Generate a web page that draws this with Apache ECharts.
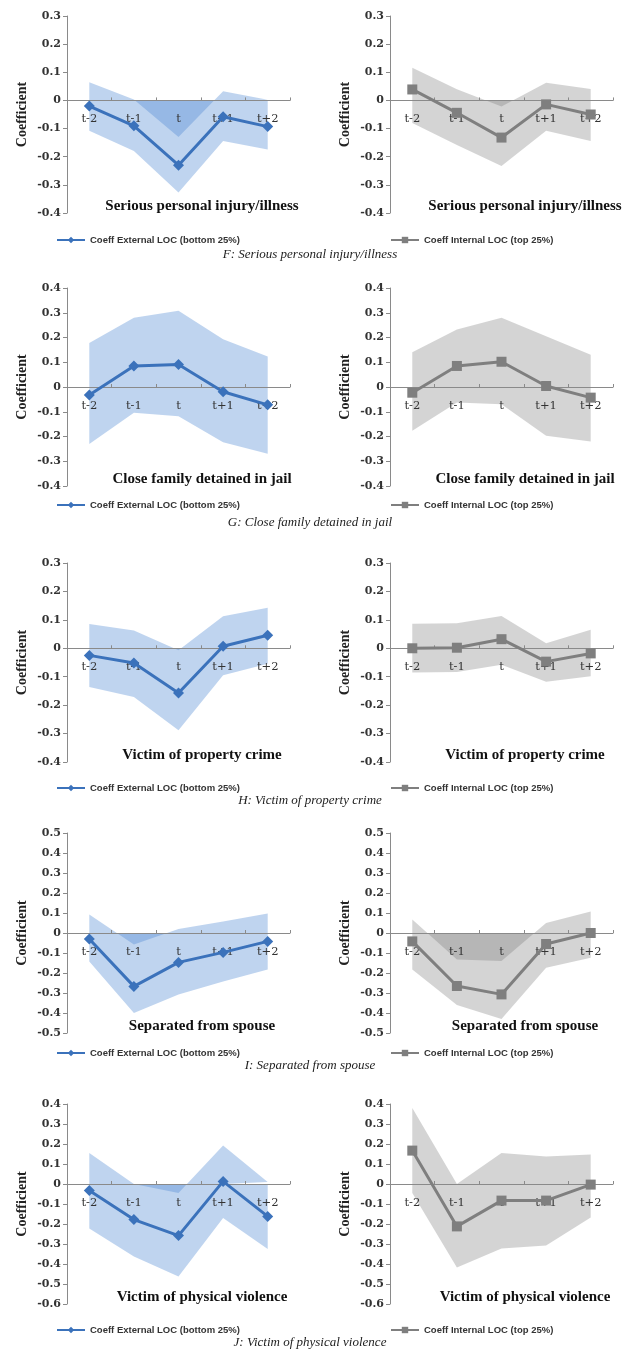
<!DOCTYPE html>
<html>
<head>
<meta charset="utf-8">
<script src="https://cdn.jsdelivr.net/npm/echarts@6/dist/echarts.min.js"></script>
<style>
  html, body { margin: 0; padding: 0; background: #ffffff; }
  #chart { width: 626px; height: 1355px; }
</style>
</head>
<body>
<div id="chart"></div>
<script>
// Event timing relative to the life event
const categories = ['t-2', 't-1', 't', 't+1', 't+2'];

const panelTitles = [
  'Serious personal injury/illness',
  'Close family detained in jail',
  'Victim of property crime',
  'Separated from spouse',
  'Victim of physical violence'
];
const captions = [
  'F: Serious personal injury/illness',
  'G: Close family detained in jail',
  'H: Victim of property crime',
  'I: Separated from spouse',
  'J: Victim of physical violence'
];
const seriesNames = ['Coeff External LOC (bottom 25%)', 'Coeff Internal LOC (top 25%)'];

// y-axis range of each panel (ticks every 0.1)
const yMin = [-0.4, -0.4, -0.4, -0.5, -0.6];
const yMax = [0.3, 0.4, 0.3, 0.5, 0.4];

// External LOC (bottom 25%): coefficient with upper / lower confidence bound
const extF_coef = [-0.020, -0.090, -0.230, -0.058, -0.093];
const extF_hi   = [0.065, 0.003, -0.130, 0.033, 0.002];
const extF_lo   = [-0.108, -0.180, -0.327, -0.144, -0.174];

const extG_coef = [-0.032, 0.085, 0.091, -0.019, -0.072];
const extG_hi   = [0.178, 0.280, 0.308, 0.193, 0.123];
const extG_lo   = [-0.230, -0.104, -0.118, -0.223, -0.270];

const extH_coef = [-0.025, -0.052, -0.157, 0.007, 0.046];
const extH_hi   = [0.085, 0.063, -0.007, 0.113, 0.143];
const extH_lo   = [-0.136, -0.171, -0.288, -0.095, -0.054];

const extI_coef = [-0.030, -0.267, -0.147, -0.097, -0.042];
const extI_hi   = [0.092, -0.058, 0.020, 0.058, 0.097];
const extI_lo   = [-0.142, -0.400, -0.308, -0.242, -0.183];

const extJ_coef = [-0.032, -0.178, -0.258, 0.013, -0.162];
const extJ_hi   = [0.155, 0.000, -0.045, 0.192, 0.010];
const extJ_lo   = [-0.223, -0.362, -0.462, -0.170, -0.325];

// Internal LOC (top 25%): coefficient with upper / lower confidence bound
const intF_coef = [0.039, -0.044, -0.132, -0.014, -0.050];
const intF_hi   = [0.116, 0.040, -0.022, 0.063, 0.041];
const intF_lo   = [-0.080, -0.158, -0.233, -0.108, -0.144];

const intG_coef = [-0.023, 0.085, 0.102, 0.004, -0.043];
const intG_hi   = [0.140, 0.232, 0.280, 0.205, 0.130];
const intG_lo   = [-0.177, -0.063, -0.070, -0.197, -0.220];

const intH_coef = [0.000, 0.002, 0.032, -0.047, -0.018];
const intH_hi   = [0.086, 0.088, 0.114, 0.018, 0.065];
const intH_lo   = [-0.085, -0.083, -0.058, -0.118, -0.098];

const intI_coef = [-0.042, -0.265, -0.307, -0.055, 0.000];
const intI_hi   = [0.067, -0.133, -0.140, 0.050, 0.108];
const intI_lo   = [-0.183, -0.360, -0.430, -0.174, -0.124];

const intJ_coef = [0.167, -0.212, -0.083, -0.083, -0.003];
const intJ_hi   = [0.380, 0.000, 0.155, 0.138, 0.147];
const intJ_lo   = [-0.045, -0.417, -0.323, -0.307, -0.167];

const coefSets = [
  [extF_coef, intF_coef], [extG_coef, intG_coef], [extH_coef, intH_coef],
  [extI_coef, intI_coef], [extJ_coef, intJ_coef]
];
const hiSets = [
  [extF_hi, intF_hi], [extG_hi, intG_hi], [extH_hi, intH_hi],
  [extI_hi, intI_hi], [extJ_hi, intJ_hi]
];
const loSets = [
  [extF_lo, intF_lo], [extG_lo, intG_lo], [extH_lo, intH_lo],
  [extI_lo, intI_lo], [extJ_lo, intJ_lo]
];

// ---- layout & styling ----
const gridTop = [16, 288, 563, 833, 1104];
const gridHeight = [197, 198, 199, 200, 200];
const gridLeft = [67, 390];
const gridWidth = 223;
const legendTop = [235, 500, 783, 1048, 1325];
const captionY = [255, 523, 801, 1066, 1343];
const titleCenterX = [202, 525];

const lineColor = ['#3b72bb', '#7f7f7f'];
const bandColor = ['rgba(80,138,212,0.52)', 'rgba(120,120,120,0.45)'];
const symbols = ['diamond', 'rect'];
const symbolSizes = [11, 10];

const axisGray = '#8a8a8a';
const serif = '"Liberation Serif", "DejaVu Serif", serif';

const grids = [], xAxes = [], yAxes = [], series = [], legends = [], graphics = [];

for (let p = 0; p < 5; p++) {
  // the category axis (line, ticks and labels) sits on the value axis' zero
  const zeroLift = gridHeight[p] * (0 - yMin[p]) / (yMax[p] - yMin[p]);
  for (let s = 0; s < 2; s++) {
    const idx = grids.length;
    grids.push({
      left: gridLeft[s], top: gridTop[p], width: gridWidth, height: gridHeight[p],
      containLabel: false
    });
    xAxes.push({
      type: 'category', gridIndex: idx, data: categories, boundaryGap: true,
      position: 'bottom', offset: -zeroLift,
      axisLine: { onZero: false, lineStyle: { color: axisGray, width: 1 } },
      axisTick: { show: true, inside: true, length: 3, lineStyle: { color: axisGray } },
      axisLabel: {
        margin: 13, color: '#333', fontFamily: '"DejaVu Serif", serif', fontSize: 11.5
      },
      splitLine: { show: false },
      z: 1
    });
    yAxes.push({
      type: 'value', gridIndex: idx, min: yMin[p], max: yMax[p], interval: 0.1,
      name: 'Coefficient', nameLocation: 'middle', nameGap: 38, nameRotate: 90,
      nameTextStyle: { fontFamily: serif, fontWeight: 'bold', fontSize: 14, color: '#222' },
      axisLine: { show: true, onZero: false, lineStyle: { color: axisGray, width: 1 } },
      axisTick: { show: true, length: 4, lineStyle: { color: axisGray } },
      splitLine: { show: false },
      axisLabel: {
        margin: 6, color: '#333', fontFamily: '"DejaVu Serif", serif',
        fontWeight: 'bold', fontSize: 11,
        formatter: v => (Math.abs(v) < 1e-9 ? '0' : v.toFixed(1))
      }
    });

    // confidence band: each bound filled towards zero, overlapping areas darken
    [hiSets[p][s], loSets[p][s]].forEach((bound, k) => {
      series.push({
        name: k === 0 ? 'upper bound' : 'lower bound',
        type: 'line', xAxisIndex: idx, yAxisIndex: idx,
        data: bound, symbol: 'none', silent: true,
        lineStyle: { width: 0, opacity: 0 },
        areaStyle: { color: bandColor[s], origin: 0 },
        z: 1
      });
    });

    series.push({
      name: seriesNames[s],
      type: 'line', xAxisIndex: idx, yAxisIndex: idx,
      data: coefSets[p][s],
      symbol: symbols[s], symbolSize: symbolSizes[s],
      lineStyle: { color: lineColor[s], width: 3 },
      itemStyle: { color: lineColor[s] },
      z: 3
    });

    legends.push({
      data: [seriesNames[s]], left: s === 0 ? 56 : 390, top: legendTop[p],
      padding: 0, itemWidth: 28, itemHeight: 8,
      selectedMode: false,
      textStyle: {
        fontFamily: '"Liberation Sans", Arial, sans-serif', fontSize: 9.5,
        fontWeight: 'bold', color: '#333'
      }
    });

    graphics.push({
      type: 'text', x: titleCenterX[s], y: gridTop[p] + gridHeight[p] - 7,
      style: {
        text: panelTitles[p], align: 'center', verticalAlign: 'middle',
        textAlign: 'center', textVerticalAlign: 'middle',
        font: 'bold 15px ' + serif, fill: '#111'
      },
      z: 10
    });
  }
  graphics.push({
    type: 'text', x: 310, y: captionY[p],
    style: {
      text: captions[p], align: 'center', verticalAlign: 'middle',
      textAlign: 'center', textVerticalAlign: 'middle',
      font: 'italic 13px ' + serif, fill: '#222'
    }
  });
}

const chart = echarts.init(document.getElementById('chart'), null, { renderer: 'canvas' });
chart.setOption({
  animation: false,
  backgroundColor: '#ffffff',
  grid: grids,
  xAxis: xAxes,
  yAxis: yAxes,
  legend: legends,
  series: series,
  graphic: graphics
});
</script>
</body>
</html>
